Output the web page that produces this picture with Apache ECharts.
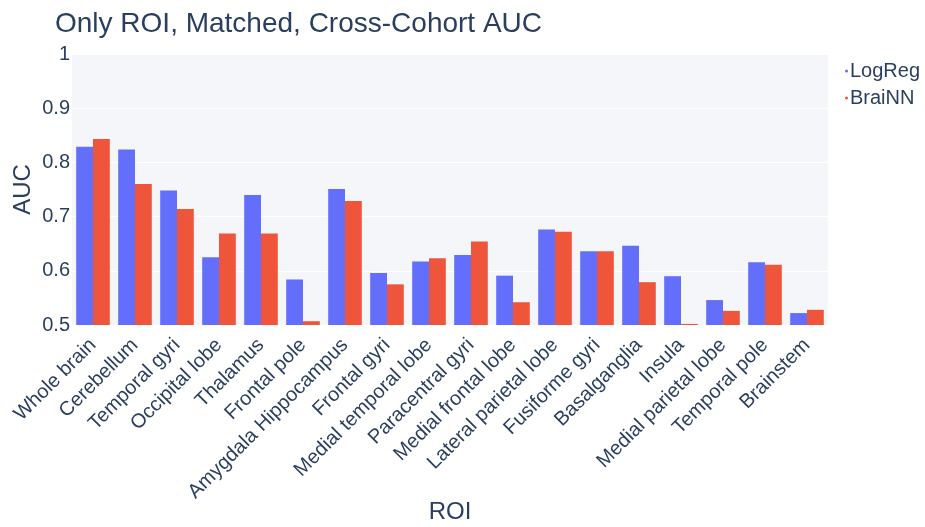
<!DOCTYPE html>
<html>
<head>
<meta charset="utf-8">
<script src="https://cdn.jsdelivr.net/npm/echarts@6/dist/echarts.min.js"></script>
<style>
    html,body{margin:0;padding:0;background:#fff;}
    #chart{width:925px;height:527px;}
</style>
</head>
<body>
<div id="chart"></div>
<script>
var roiNames = ['Whole brain', 'Cerebellum', 'Temporal gyri', 'Occipital lobe', 'Thalamus', 'Frontal pole',
    'Amygdala Hippocampus', 'Frontal gyri', 'Medial temporal lobe', 'Paracentral gyri', 'Medial frontal lobe',
    'Lateral parietal lobe', 'Fusiforme gyri', 'Basalganglia', 'Insula', 'Medial parietal lobe', 'Temporal pole', 'Brainstem'];
var logRegAuc = [0.829, 0.824, 0.748, 0.625, 0.740, 0.584, 0.751, 0.596, 0.617, 0.629, 0.591, 0.676, 0.636, 0.646, 0.590, 0.546, 0.616, 0.522];
var braiNNAuc = [0.843, 0.760, 0.714, 0.669, 0.669, 0.507, 0.729, 0.575, 0.623, 0.654, 0.542, 0.672, 0.636, 0.579, 0.502, 0.526, 0.611, 0.528];

var txtColor = '#2a3f5f';
var fontFam = '"Liberation Sans", Arial, sans-serif';

var myChart = echarts.init(document.getElementById('chart'));
var option = {
    backgroundColor: '#fff',
    color: ['#636efa', '#ef553b'],
    textStyle: {fontFamily: fontFam},
    title: {
        text: 'Only ROI, Matched, Cross-Cohort AUC',
        left: 50,
        top: 5,
        textStyle: {color: txtColor, fontSize: 28, fontWeight: 'normal', fontFamily: fontFam}
    },
    legend: {
        orient: 'vertical',
        left: 840,
        top: 56,
        itemWidth: 3,
        itemHeight: 3,
        itemGap: 7,
        icon: 'circle',
        textStyle: {color: txtColor, fontSize: 20, padding: [0, 0, 0, -3]},
        data: ['LogReg', 'BraiNN']
    },
    grid: {
        left: 72,
        right: 97,
        top: 54,
        bottom: 202,
        outerBoundsMode: 'none',
        containLabel: false,
        show: true,
        backgroundColor: '#f5f6f9',
        borderWidth: 0
    },
    xAxis: {
        type: 'category',
        data: roiNames,
        name: 'ROI',
        nameLocation: 'middle',
        nameGap: 175,
        nameMoveOverlap: false,
        nameTextStyle: {color: txtColor, fontSize: 24},
        axisLine: {show: false},
        axisTick: {show: false},
        axisLabel: {
            rotate: 45,
            interval: 0,
            margin: 17,
            color: txtColor,
            fontSize: 20
        }
    },
    yAxis: {
        type: 'value',
        min: 0.5,
        max: 1,
        interval: 0.1,
        name: 'AUC',
        nameLocation: 'middle',
        nameGap: 37,
        nameMoveOverlap: false,
        nameTextStyle: {color: txtColor, fontSize: 24},
        axisLine: {show: false},
        axisTick: {show: false},
        splitLine: {show: true, lineStyle: {color: '#ffffff', width: 1}},
        axisLabel: {
            color: txtColor,
            fontSize: 20,
            margin: 2,
            formatter: function (v) { return String(Math.round(v * 10) / 10); }
        }
    },
    series: [
        {
            name: 'LogReg',
            type: 'bar',
            data: logRegAuc,
            barGap: '0%',
            barCategoryGap: '20%'
        },
        {
            name: 'BraiNN',
            type: 'bar',
            data: braiNNAuc,
            barGap: '0%',
            barCategoryGap: '20%'
        }
    ]
};
myChart.setOption(option);
</script>
</body>
</html>
